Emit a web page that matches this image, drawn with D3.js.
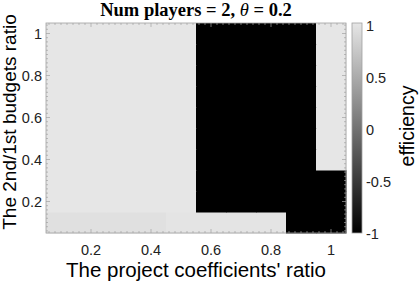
<!DOCTYPE html>
<html>
<head>
<meta charset="utf-8">
<script src="https://cdn.jsdelivr.net/npm/d3@7"></script>
<style>
  body { margin: 0; background: #fff; }
  text { font-family: "Liberation Sans", Arial, sans-serif; }
</style>
</head>
<body>
<div id="chart"></div>
<script>
// grid of ratios (cell centers)
var coefRatios = [0.1, 0.2, 0.3, 0.4, 0.5, 0.6, 0.7, 0.8, 0.9, 1.0];
var budgetRatios = [0.1, 0.2, 0.3, 0.4, 0.5, 0.6, 0.7, 0.8, 0.9, 1.0];

// efficiency rows, one per budget ratio (bottom to top), columns follow coefRatios
var efficiency = [
  [0.95, 0.95, 0.95, 0.95, 0.98, 0.98, 0.98, 0.98, -1, -1],
  [1, 1, 1, 1, 1, -1, -1, -1, -1, -1],
  [1, 1, 1, 1, 1, -1, -1, -1, -1, -1],
  [1, 1, 1, 1, 1, -1, -1, -1, -1, 1],
  [1, 1, 1, 1, 1, -1, -1, -1, -1, 1],
  [1, 1, 1, 1, 1, -1, -1, -1, -1, 1],
  [1, 1, 1, 1, 1, -1, -1, -1, -1, 1],
  [1, 1, 1, 1, 1, -1, -1, -1, -1, 1],
  [1, 1, 1, 1, 1, -1, -1, -1, -1, 1],
  [1, 1, 1, 1, 1, -1, -1, -1, -1, 1]
];

var xTicks = [0.2, 0.4, 0.6, 0.8, 1];
var yTicks = [0.2, 0.4, 0.6, 0.8, 1];
var cTicks = [-1, -0.5, 0, 0.5, 1];

var w = 419, h = 285;
var padL = 46, padR = 346, padT = 23, padB = 233;

var svg = d3.select("#chart").append("svg")
  .attr("width", w).attr("height", h);

var xScale = d3.scaleLinear().domain([0.05, 1.05]).range([padL, padR]);
var yScale = d3.scaleLinear().domain([0.05, 1.05]).range([padB, padT]);
var color = d3.scaleLinear().domain([-1, 1]).range(["#000000", "#e6e6e6"]);

// cells
var cells = [];
budgetRatios.forEach(function(b, i) {
  coefRatios.forEach(function(c, j) {
    cells.push({x: c, y: b, v: efficiency[i][j]});
  });
});

svg.append("g").selectAll("rect")
  .data(cells).enter()
  .append("rect")
  .attr("x", function(d) { return xScale(d.x - 0.05); })
  .attr("y", function(d) { return yScale(d.y + 0.05); })
  .attr("width", function(d) { return xScale(d.x + 0.05) - xScale(d.x - 0.05) + 0.5; })
  .attr("height", function(d) { return yScale(d.y - 0.05) - yScale(d.y + 0.05) + 0.5; })
  .attr("fill", function(d) { return color(d.v); });

// box with inward ticks
var axisCol = "#a0a0a0";
svg.append("rect")
  .attr("x", padL).attr("y", padT)
  .attr("width", padR - padL).attr("height", padB - padT)
  .attr("fill", "none").attr("stroke", axisCol).attr("stroke-width", 0.8);

var minor = d3.range(0.06, 1.05, 0.02);
var tg = svg.append("g").attr("stroke", axisCol).attr("stroke-width", 0.7);
minor.forEach(function(v) {
  var major = xTicks.some(function(t) { return Math.abs(t - v) < 1e-6; });
  var len = major ? 4 : 2;
  tg.append("line").attr("x1", xScale(v)).attr("x2", xScale(v)).attr("y1", padB).attr("y2", padB - len);
  tg.append("line").attr("x1", xScale(v)).attr("x2", xScale(v)).attr("y1", padT).attr("y2", padT + len);
  tg.append("line").attr("y1", yScale(v)).attr("y2", yScale(v)).attr("x1", padL).attr("x2", padL + len);
  tg.append("line").attr("y1", yScale(v)).attr("y2", yScale(v)).attr("x1", padR).attr("x2", padR - len);
});

// tick labels
svg.append("g").selectAll("text")
  .data(xTicks).enter().append("text")
  .attr("x", function(d) { return xScale(d); })
  .attr("y", 255)
  .attr("text-anchor", "middle")
  .attr("font-size", 14.5).attr("fill", "#222")
  .text(function(d) { return d; });

svg.append("g").selectAll("text")
  .data(yTicks).enter().append("text")
  .attr("x", 42)
  .attr("y", function(d) { return yScale(d) + 5; })
  .attr("text-anchor", "end")
  .attr("font-size", 14.5).attr("fill", "#222")
  .text(function(d) { return d; });

// axis titles
svg.append("text")
  .attr("x", (padL + padR) / 2).attr("y", 277)
  .attr("text-anchor", "middle").attr("font-size", 20.5)
  .text("The project coefficients' ratio");

svg.append("text")
  .attr("transform", "translate(16,122) rotate(-90)")
  .attr("text-anchor", "middle").attr("font-size", 19)
  .text("The 2nd/1st budgets ratio");

var title = svg.append("text")
  .attr("x", (padL + padR) / 2).attr("y", 16)
  .attr("text-anchor", "middle")
  .attr("font-size", 18.5).attr("font-weight", "bold")
  .style("font-family", "'Liberation Serif', 'Times New Roman', serif");
title.append("tspan").text("Num players = 2, ");
title.append("tspan").attr("font-style", "italic").attr("font-weight", "normal").text("θ");
title.append("tspan").text(" = 0.2");

// colorbar
var cbX = 352, cbW = 10;
var cScale = d3.scaleLinear().domain([-1, 1]).range([234, 26]);
var grad = svg.append("defs").append("linearGradient")
  .attr("id", "cbar").attr("x1", 0).attr("x2", 0).attr("y1", 1).attr("y2", 0);
grad.append("stop").attr("offset", "0%").attr("stop-color", color(-1));
grad.append("stop").attr("offset", "100%").attr("stop-color", color(1));

svg.append("rect")
  .attr("x", cbX).attr("y", padT)
  .attr("width", cbW).attr("height", padB - padT)
  .attr("fill", "url(#cbar)")
  .attr("stroke", axisCol).attr("stroke-width", 0.8);

svg.append("g").selectAll("text")
  .data(cTicks).enter().append("text")
  .attr("x", 366)
  .attr("y", function(d) { return cScale(d) + 5; })
  .attr("font-size", 14.5).attr("fill", "#222")
  .text(function(d) { return d; });

svg.append("text")
  .attr("transform", "translate(414,126) rotate(-90)")
  .attr("text-anchor", "middle").attr("font-size", 19.5)
  .text("efficiency");
</script>
</body>
</html>
